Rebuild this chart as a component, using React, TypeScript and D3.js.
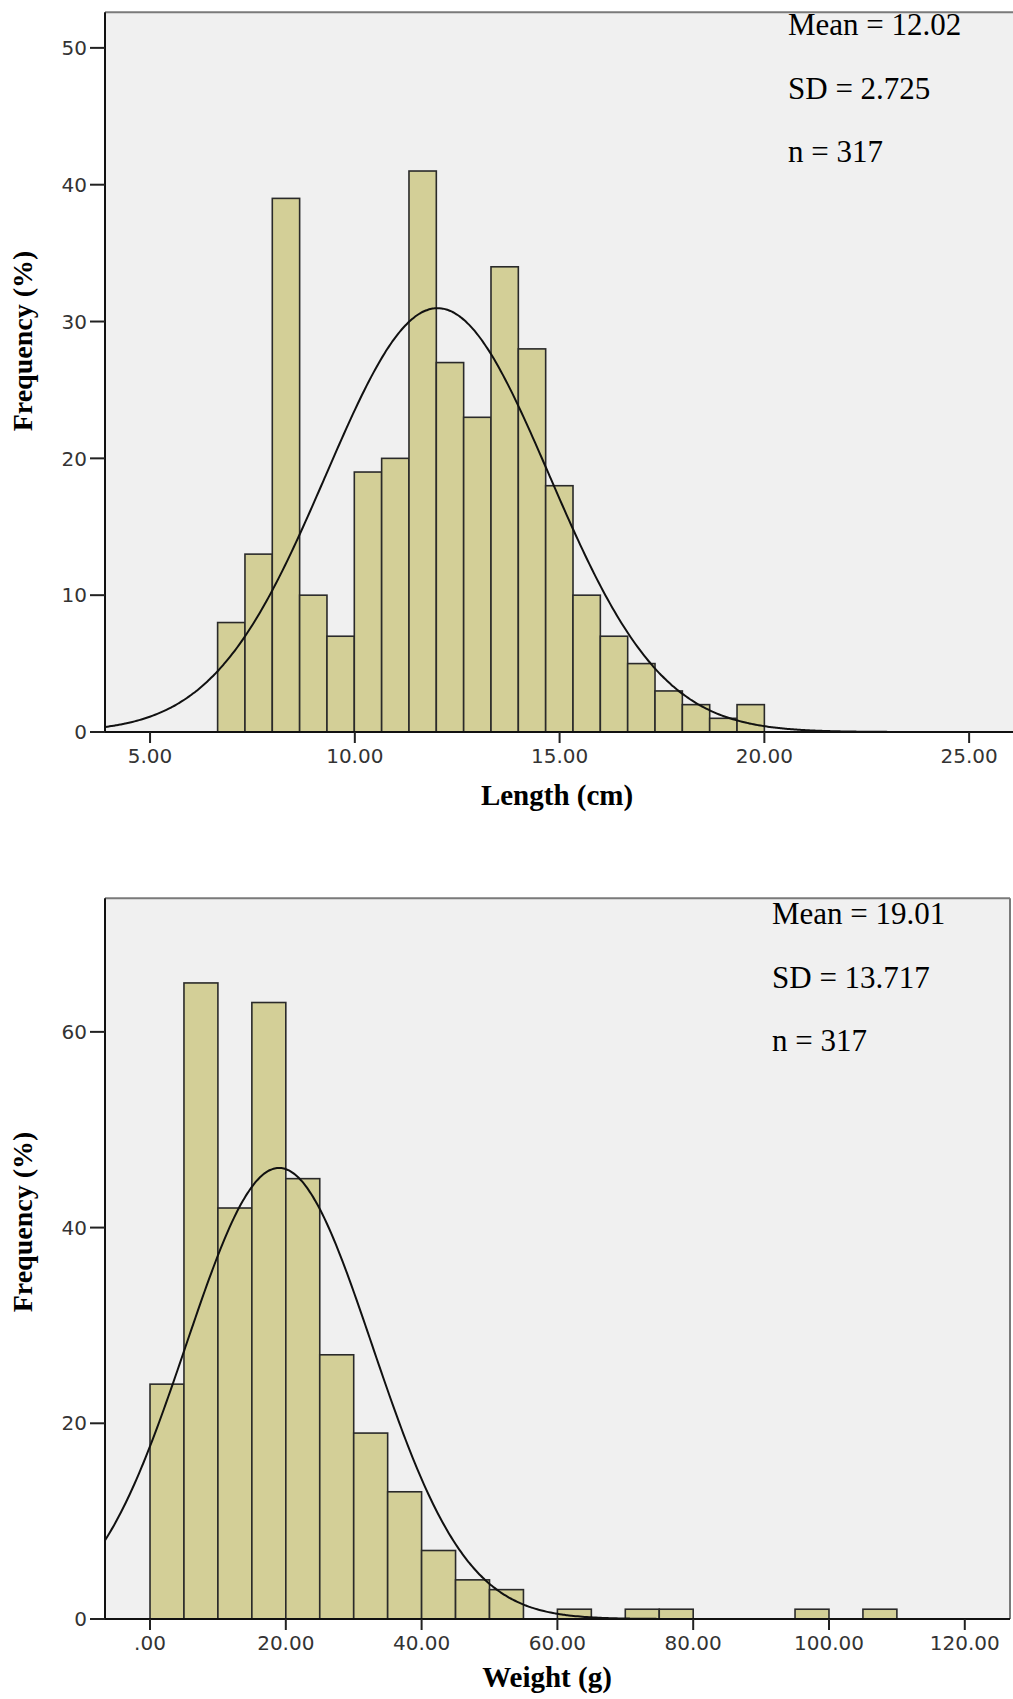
import React from "react";
import * as d3 from "d3";

// ---------- Data ----------
// Length (cm) histogram
const lengthBinStart = 6.65;
const lengthBinWidth = 0.6675;
const lengthCounts = [8, 13, 39, 10, 7, 19, 20, 41, 27, 23, 34, 28, 18, 10, 7, 5, 3, 2, 1, 2];
const lengthXTicks = [5, 10, 15, 20, 25];
const lengthYTicks = [0, 10, 20, 30, 40, 50];
const lengthStats = { mean: 12.02, sd: 2.725, n: 317 };
const lengthStatLabels = ["Mean = 12.02", "SD = 2.725", "n = 317"];

// Weight (g) histogram
const weightBinStarts = [0, 5, 10, 15, 20, 25, 30, 35, 40, 45, 50, 60, 70, 75, 95, 105];
const weightBinWidth = 5;
const weightCounts = [24, 65, 42, 63, 45, 27, 19, 13, 7, 4, 3, 1, 1, 1, 1, 1];
const weightXTicks = [0, 20, 40, 60, 80, 100, 120];
const weightYTicks = [0, 20, 40, 60];
const weightStats = { mean: 19.01, sd: 13.717, n: 317 };
const weightStatLabels = ["Mean = 19.01", "SD = 13.717", "n = 317"];

const fmt2 = (v: number) => (v === 0 ? ".00" : v.toFixed(2));

type HistProps = {
  bins: { x0: number; x1: number; count: number }[];
  binWidth: number;
  stats: { mean: number; sd: number; n: number };
  statLabels: string[];
  xDomain: [number, number];
  yMax: number;
  xTicks: number[];
  yTicks: number[];
  left: number;
  right: number;
  top: number;
  bottom: number;
  showRight: boolean;
  statX: number;
  statY: number;
  xTitle: string;
  xTitleX: number;
  xTitleY: number;
  yTitleY: number;
};

function Histogram(p: HistProps) {
  const x = d3.scaleLinear().domain(p.xDomain).range([p.left, p.right]);
  const y = d3.scaleLinear().domain([0, p.yMax]).range([p.bottom, p.top]);
  const { mean, sd, n } = p.stats;
  const scale = (n * p.binWidth) / (sd * Math.sqrt(2 * Math.PI));
  const pts: [number, number][] = [];
  const steps = 400;
  for (let i = 0; i <= steps; i++) {
    const v = p.xDomain[0] + ((p.xDomain[1] - p.xDomain[0]) * i) / steps;
    const z = (v - mean) / sd;
    pts.push([v, scale * Math.exp(-0.5 * z * z)]);
  }
  const line = d3
    .line<[number, number]>()
    .x((d) => x(d[0]))
    .y((d) => y(d[1]))
    .curve(d3.curveBasis);
  const clipId = "clip" + Math.round(p.top);
  return (
    <g>
      <defs>
        <clipPath id={clipId}>
          <rect x={p.left} y={p.top} width={p.right - p.left} height={p.bottom - p.top} />
        </clipPath>
      </defs>
      <rect x={p.left} y={p.top} width={p.right - p.left} height={p.bottom - p.top} fill="#f0f0f0" />
      {/* plot frame top/right */}
      <line x1={p.left} x2={p.right} y1={p.top} y2={p.top} stroke="#7a7a7a" strokeWidth={2} />
      {p.showRight && (
        <line x1={p.right} x2={p.right} y1={p.top} y2={p.bottom} stroke="#7a7a7a" strokeWidth={2} />
      )}
      <g clipPath={`url(#${clipId})`}>
        {p.bins.map((b, i) => (
          <rect
            key={i}
            x={x(b.x0)}
            y={y(b.count)}
            width={x(b.x1) - x(b.x0)}
            height={y(0) - y(b.count)}
            fill="#d3cf97"
            stroke="#2a2a2a"
            strokeWidth={1.6}
          />
        ))}
        <path d={line(pts) || ""} fill="none" stroke="#111" strokeWidth={2} />
      </g>
      {/* axes */}
      <line x1={p.left} x2={p.left} y1={p.top} y2={p.bottom} stroke="#111" strokeWidth={2} />
      <line x1={p.left} x2={p.right} y1={p.bottom} y2={p.bottom} stroke="#111" strokeWidth={2} />
      {p.yTicks.map((t) => (
        <g key={"y" + t}>
          <line x1={p.left - 15} x2={p.left} y1={y(t)} y2={y(t)} stroke="#222" strokeWidth={2} />
          <text
            x={p.left - 18}
            y={y(t)}
            dy="0.36em"
            textAnchor="end"
            fontFamily="'DejaVu Sans', sans-serif"
            fontSize={20}
            fill="#333"
          >
            {t}
          </text>
        </g>
      ))}
      {p.xTicks.map((t) => (
        <g key={"x" + t}>
          <line x1={x(t)} x2={x(t)} y1={p.bottom} y2={p.bottom + 11} stroke="#222" strokeWidth={2} />
          <text
            x={x(t)}
            y={p.bottom + 31}
            textAnchor="middle"
            fontFamily="'DejaVu Sans', sans-serif"
            fontSize={20}
            fill="#333"
          >
            {fmt2(t)}
          </text>
        </g>
      ))}
      {p.statLabels.map((s, i) => (
        <text
          key={s}
          x={p.statX}
          y={p.statY + i * 63.5}
          fontFamily="'Liberation Serif', 'Times New Roman', serif"
          fontSize={31}
          fill="#000"
        >
          {s}
        </text>
      ))}
      <text
        x={p.xTitleX}
        y={p.xTitleY}
        textAnchor="middle"
        fontFamily="'Liberation Serif', 'Times New Roman', serif"
        fontWeight="bold"
        fontSize={29}
        fill="#000"
      >
        {p.xTitle}
      </text>
      <text
        transform={`translate(32,${p.yTitleY}) rotate(-90)`}
        textAnchor="middle"
        fontFamily="'Liberation Serif', 'Times New Roman', serif"
        fontWeight="bold"
        fontSize={28}
        fill="#000"
      >
        Frequency (%)
      </text>
    </g>
  );
}

export default function App() {
  const lengthBins = lengthCounts.map((c, i) => ({
    x0: lengthBinStart + i * lengthBinWidth,
    x1: lengthBinStart + (i + 1) * lengthBinWidth,
    count: c,
  }));
  const weightBins = weightCounts.map((c, i) => ({
    x0: weightBinStarts[i],
    x1: weightBinStarts[i] + weightBinWidth,
    count: c,
  }));
  return (
    <div style={{ position: "absolute", left: 0, top: 0, background: "#fff" }}>
      <svg width={1013} height={1699} style={{ display: "block" }}>
        <rect width={1013} height={1699} fill="#fff" />
        <Histogram
          bins={lengthBins}
          binWidth={lengthBinWidth}
          stats={lengthStats}
          statLabels={lengthStatLabels}
          xDomain={[3.9, 26.12]}
          yMax={52.6}
          xTicks={lengthXTicks}
          yTicks={lengthYTicks}
          left={105}
          right={1015}
          top={12.3}
          bottom={732}
          showRight={false}
          statX={788}
          statY={35}
          xTitle="Length (cm)"
          xTitleX={557}
          xTitleY={805}
          yTitleY={341}
        />
        <Histogram
          bins={weightBins}
          binWidth={weightBinWidth}
          stats={weightStats}
          statLabels={weightStatLabels}
          xDomain={[-6.63, 126.66]}
          yMax={73.65}
          xTicks={weightXTicks}
          yTicks={weightYTicks}
          left={105}
          right={1010}
          top={898.3}
          bottom={1619}
          showRight={true}
          statX={772}
          statY={924}
          xTitle="Weight (g)"
          xTitleX={547}
          xTitleY={1687}
          yTitleY={1222}
        />
      </svg>
    </div>
  );
}
